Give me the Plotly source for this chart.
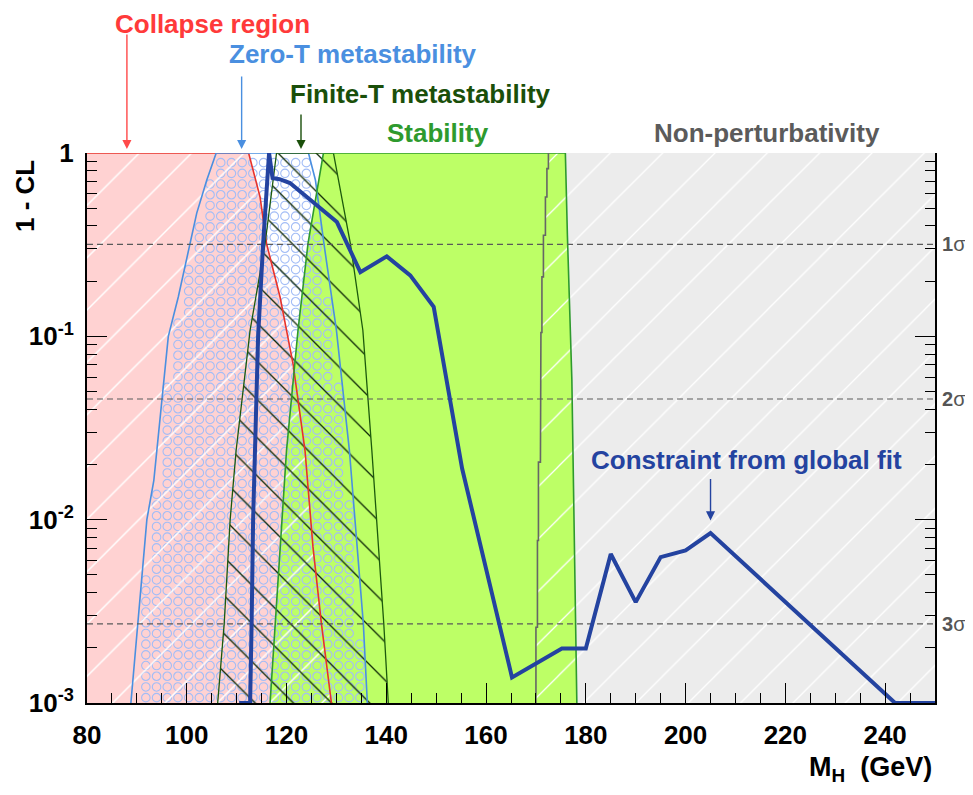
import numpy as np
import plotly.graph_objects as go

# ---------------- data ----------------
# global fit curve
fit_mh = [110.5, 112.7, 113.0, 113.3, 114.3, 115.3, 116.5, 117.2, 118.6, 120.7, 130.1, 134.8,
          140.1, 144.8, 149.5, 155.2, 165.2, 175.2, 180.0, 185.0, 190.0, 195.0, 200.0, 205.0,
          242.0, 250.0]
fit_cl = [0.001, 0.001, 0.0027, 0.01, 0.1, 0.317, 1.0, 0.73, 0.72, 0.686, 0.42, 0.224,
          0.273, 0.215, 0.145, 0.019, 0.00138, 0.00198, 0.00198, 0.0065, 0.00355, 0.00625, 0.0068, 0.00845,
          0.001, 0.001]

# collapse boundary (red)
red_cl = [1.0, 0.575, 0.32, 0.164, 0.071, 0.0239, 0.0071, 0.0027, 0.001]
red_mh = [112.4, 114.7, 116.0, 118.7, 121.3, 123.7, 125.3, 127.0, 129.0]

# zero-T metastability boundaries (blue)
ztl_cl = [1.0, 0.71, 0.47, 0.32, 0.164, 0.1, 0.0164, 0.01, 0.0027, 0.001]
ztl_mh = [105.9, 104.0, 102.0, 100.7, 98.3, 96.3, 93.4, 92.0, 90.2, 88.8]
ztr_cl = [1.0, 0.71, 0.32, 0.108, 0.0239, 0.0027, 0.001]
ztr_mh = [124.4, 125.8, 127.5, 130.0, 132.6, 135.4, 136.2]

# finite-T metastability boundaries (dark green)
ftl_cl = [1.0, 0.32, 0.108, 0.0239, 0.01, 0.0027, 0.001]
ftl_mh = [118.0, 115.7, 112.7, 109.9, 108.7, 107.5, 106.2]
ftr_cl = [1.0, 0.32, 0.108, 0.0239, 0.0027, 0.001]
ftr_mh = [129.4, 132.8, 135.3, 137.1, 139.5, 140.4]

# stability boundaries (green)
stl_cl = [1.0, 0.32, 0.108, 0.0239, 0.0027, 0.001]
stl_mh = [127.4, 124.3, 122.3, 120.0, 117.7, 116.7]
str_cl = [1.0, 0.36, 0.058, 0.001]
str_mh = [175.9, 176.3, 177.2, 178.2]

# non-perturbativity boundary (staircase)
np_edges_cl = [1.0, 0.822, 0.575, 0.356, 0.211, 0.105, 0.0489, 0.0206, 0.0077, 0.00259, 0.001]
np_mh = [172.5, 172.2, 171.9, 171.5, 171.2, 171.0, 170.9, 170.5, 170.3, 170.0]

# sigma levels
sigma_cl = [0.3173, 0.0455, 0.0027]
sigma_num = ["1", "2", "3"]

# annotation arrow targets (M_H)
arrow_mh = {"collapse": 88.0, "zerot": 111.0, "finitet": 122.9, "fit": 205.0}

XMIN, XMAX = 80, 250
YMIN, YMAX = 0.001, 1.0
FONT = "Liberation Sans, Arial, sans-serif"

# colours
C_PINK = "#ffd2d2"
C_GREEN = "#bdff66"
C_GRAY = "#ececec"
C_RED = "#e8322a"
C_BLUE_L = "#4a8fe0"
C_DGREEN = "#1c5a0c"
C_GREEN_L = "#2e9a2e"
C_FIT = "#2443a0"
C_CIRC = "#a3bdf6"

fig = go.Figure()


def add_fill(xs, ys, color=None, pattern=None):
    kw = dict(x=xs, y=ys, mode="lines", line=dict(width=0), fill="toself",
              hoverinfo="skip", showlegend=False)
    if pattern is None:
        kw["fillcolor"] = color
    else:
        kw["fillcolor"] = "rgba(0,0,0,0)"
        kw["fillpattern"] = pattern
    fig.add_trace(go.Scatter(**kw))


def add_line(xs, ys, color, width=1.5, dash=None):
    fig.add_trace(go.Scatter(x=xs, y=ys, mode="lines",
                             line=dict(color=color, width=width, dash=dash),
                             hoverinfo="skip", showlegend=False))


# staircase path of non-perturbativity boundary
np_x, np_y = [], []
for i, m in enumerate(np_mh):
    np_x += [m, m]
    np_y += [np_edges_cl[i], np_edges_cl[i + 1]]

# polygons
np_poly_x = np_x + [XMAX, XMAX]
np_poly_y = np_y + [YMIN, YMAX]
col_poly_x = [XMIN] + red_mh + [XMIN]
col_poly_y = [YMAX] + red_cl + [YMIN]
st_poly_x = stl_mh[::-1] + str_mh
st_poly_y = stl_cl[::-1] + str_cl
ft_poly_x = ftl_mh[::-1] + ftr_mh
ft_poly_y = ftl_cl[::-1] + ftr_cl
zt_poly_x = ztl_mh[::-1] + ztr_mh
zt_poly_y = ztl_cl[::-1] + ztr_cl

# solid fills
add_fill(np_poly_x, np_poly_y, C_GRAY)
add_fill(col_poly_x, col_poly_y, C_PINK)
add_fill(st_poly_x, st_poly_y, C_GREEN)

# zero-T circle pattern (open circles on a regular pixel grid, clipped to the region)
W_PX, H_PX = 848.0, 550.0
step = 10.7
gx = np.arange(step / 2, W_PX, step)
gy = np.arange(step / 2, H_PX, step)
ly_l = np.log10(ztl_cl)[::-1]
lx_l = np.array(ztl_mh)[::-1]
ly_r = np.log10(ztr_cl)[::-1]
lx_r = np.array(ztr_mh)[::-1]
cx, cy = [], []
margin = 4.0 * (XMAX - XMIN) / W_PX
for py in gy:
    ly = -3 + py / H_PX * 3
    left = np.interp(ly, ly_l, lx_l)
    right = np.interp(ly, ly_r, lx_r)
    for px in gx:
        m = XMIN + px / W_PX * (XMAX - XMIN)
        if left + margin < m < right - margin and ly < -4.5 * 3 / H_PX:
            cx.append(m)
            cy.append(10 ** ly)
fig.add_trace(go.Scatter(x=cx, y=cy, mode="markers",
                         marker=dict(symbol="circle-open", size=8.5, color=C_CIRC,
                                     line=dict(width=1.1, color=C_CIRC)),
                         hoverinfo="skip", showlegend=False))

# hatches
add_fill(col_poly_x, col_poly_y,
         pattern=dict(shape="/", fgcolor="white", bgcolor="rgba(0,0,0,0)", size=37, solidity=0.04,
                      fillmode="replace"))
add_fill(np_poly_x, np_poly_y,
         pattern=dict(shape="/", fgcolor="white", bgcolor="rgba(0,0,0,0)", size=37, solidity=0.035,
                      fillmode="replace"))
add_fill(ft_poly_x, ft_poly_y,
         pattern=dict(shape="\\", fgcolor="#102a08", bgcolor="rgba(0,0,0,0)", size=27, solidity=0.05,
                      fillmode="replace"))

# boundary lines
add_line([XMIN] + red_mh, [YMAX] + red_cl, C_RED, 1.6)
add_line(zt_poly_x, zt_poly_y, C_BLUE_L, 1.6)
add_line(ft_poly_x, ft_poly_y, C_DGREEN, 1.3)
add_line(st_poly_x, st_poly_y, C_GREEN_L, 1.6)
add_line(np_x, np_y, "#666666", 1.6)

# sigma lines
for s in sigma_cl:
    add_line([XMIN, XMAX], [s, s], "#5a5a5a", 1.1, dash="6px,4px")

# global fit
add_line(fit_mh, fit_cl, C_FIT, 4)

# ---------------- layout ----------------
# page has an 8px body margin; figure sized to fit the 973x795 window exactly
OFF = 8
FW, FH = 973 - 2 * OFF, 795 - 2 * OFF
ML, MT = 79, 145
W, H = 848, 550
MR = FW - ML - W
MB = FH - MT - H
fig.update_layout(
    width=FW, height=FH,
    margin=dict(l=ML, r=MR, t=MT, b=MB, pad=0),
    paper_bgcolor="white", plot_bgcolor="white",
    font=dict(family=FONT, color="black"),
    showlegend=False,
)
fig.update_xaxes(
    range=[XMIN, XMAX], showgrid=False, zeroline=False,
    showline=True, linecolor="black", linewidth=2, mirror=False,
    ticks="inside", ticklen=20, tickwidth=1.3, tickcolor="black",
    dtick=20, tick0=0, ticklabelstandoff=8,
    minor=dict(ticks="inside", ticklen=10, dtick=5, tick0=0, tickcolor="black", tickwidth=1.3, showgrid=False),
    tickfont=dict(family=FONT, size=26, weight="bold", color="black"),
)
fig.update_yaxes(
    type="log", range=[-3, 0], showgrid=False, zeroline=False,
    showline=True, linecolor="black", linewidth=2, mirror="ticks",
    ticks="inside", ticklen=20, tickwidth=1.3, tickcolor="black",
    tickvals=[0.001, 0.01, 0.1, 1],
    ticktext=["10<sup>-3</sup>", "10<sup>-2</sup>", "10<sup>-1</sup>", "1"],
    ticklabelstandoff=6,
    minor=dict(ticks="inside", ticklen=10, dtick="D1", tickcolor="black", tickwidth=1.3, showgrid=False),
    tickfont=dict(family=FONT, size=26, weight="bold", color="black"),
)


def px2paper(px, py):
    # px, py: pixel position in the 973x795 window
    return (px - OFF - ML) / W, (FH - MB - (py - OFF)) / H


def text_ann(txt, px, py, color, size=26, **kw):
    x, y = px2paper(px, py)
    d = dict(text=txt, x=x, y=y, xref="paper", yref="paper", showarrow=False,
             font=dict(family=FONT, size=size, color=color, weight="bold"),
             xanchor="center", yanchor="middle", borderpad=0)
    d.update(kw)
    fig.add_annotation(**d)


def arrow_ann(mh, color, tail_px, tip_px=149):
    _, ytip = px2paper(0, tip_px)
    fig.add_annotation(x=mh, y=ytip, xref="x", yref="paper", text="", showarrow=True,
                       ax=0, ay=-(tip_px - tail_px), arrowhead=2, arrowsize=1.3,
                       arrowwidth=1.4, arrowcolor=color)


text_ann("Collapse region", 212, OFF, "#ff3a3a", yanchor="top")
arrow_ann(arrow_mh["collapse"], "#ff4a4a", 33)
text_ann("Zero-T metastability", 353, 54, C_BLUE_L)
arrow_ann(arrow_mh["zerot"], C_BLUE_L, 75)
text_ann("Finite-T metastability", 420, 94, "#1a4f0a")
arrow_ann(arrow_mh["finitet"], "#1a4f0a", 113)
text_ann("Stability", 438, 133, C_GREEN_L)
text_ann("Non-perturbativity", 767, 133, "#5b5b5b")
text_ann("Constraint from global fit", 746, 460, C_FIT)
fig.add_annotation(x=arrow_mh["fit"], y=np.log10(0.0099), xref="x", yref="y", text="",
                   showarrow=True, ax=0, ay=-43, arrowhead=2, arrowsize=1.3,
                   arrowwidth=1.4, arrowcolor=C_FIT)

# sigma labels
sx, _ = px2paper(940, 0)
for s, n in zip(sigma_cl, sigma_num):
    fig.add_annotation(x=sx, y=np.log10(s), xref="paper", yref="y", text="<b>" + n + "</b>σ",
                       showarrow=False, xanchor="left", yanchor="middle",
                       font=dict(family=FONT, size=20, color="#555555"))

# axis titles
text_ann("1 - CL", 25, 196, "black", textangle=-90)
text_ann("M<sub>H</sub>  (GeV)", 933, 795 - OFF, "black", size=27, xanchor="right", yanchor="bottom")

fig.write_html("out.html")
